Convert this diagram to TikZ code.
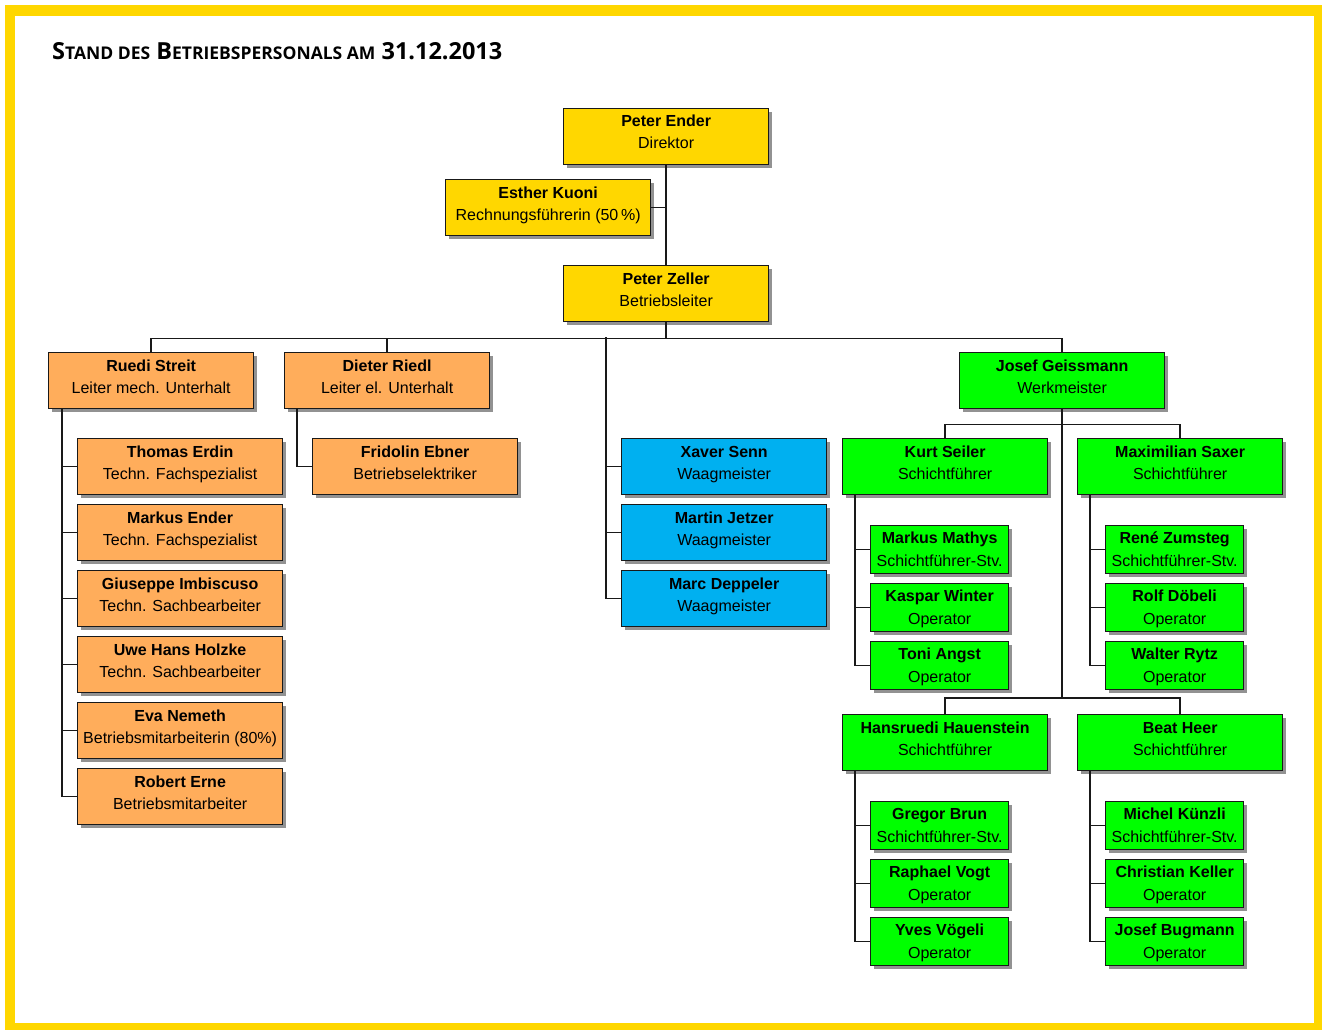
\documentclass[tikz,border=0pt]{standalone}
\usepackage{fontspec}
\setmainfont{Liberation Sans}
\newfontfamily\titlefont{Open Sans}
\usetikzlibrary{shadows}
\definecolor{frameY}{RGB}{255,215,0}
\definecolor{boxY}{RGB}{255,215,0}
\definecolor{boxO}{RGB}{255,173,91}
\definecolor{boxB}{RGB}{0,176,240}
\definecolor{boxG}{RGB}{0,255,0}
\tikzset{
 pbox/.style={draw=black!90, line width=1.3pt, inner sep=0pt,
   drop shadow={shadow xshift=3pt, shadow yshift=-3pt, fill=black!50, opacity=0.85}},
 big/.style={pbox, minimum width=205pt, minimum height=56pt},
 small/.style={pbox, minimum width=138pt, minimum height=48pt},
 yel/.style={big, fill=boxY},
 ora/.style={big, fill=boxO},
 blu/.style={big, fill=boxB},
 grn/.style={big, fill=boxG},
 sgrn/.style={small, fill=boxG},
 nm/.style={font=\fontsize{16}{16}\selectfont\bfseries, inner sep=0pt},
 rl/.style={font=\fontsize{16}{16}\selectfont, inner sep=0pt},
 conn/.style={line width=1.4pt, black!90},
}
\newcommand\pers[6]{%
 \node[#2, anchor=north west] (#1) at (#3) {};
 \node[nm, anchor=base] (#1n) at ([yshift=-#6pt]#1.north) {#4};
 \node[rl, anchor=base] (#1r) at ([yshift=-41pt]#1.north) {#5};}
\newcommand\scap[1]{{\fontsize{17.5}{17.5}\selectfont #1}}
\begin{document}
\begin{tikzpicture}[x=1pt,y=-1pt]
\useasboundingbox (0,0) rectangle (1322,1030);
\fill[frameY] (5,5) rectangle (1322,1030);
\fill[white] (15,16) rectangle (1314,1023);
\node[anchor=base west, inner sep=0pt, font=\titlefont\bfseries\fontsize{23.5}{23.5}\selectfont] (title) at (52,60)
 {S\scap{TAND DES} B\scap{ETRIEBSPERSONALS AM} 31.12.2013};

% yellow
\pers{pe}{yel}{563,108}{Peter Ender}{Direktor}{19}
\pers{ek}{yel}{445,179}{Esther Kuoni}{Rechnungsführerin (50\,\%)}{19}
\pers{pz}{yel}{563,265}{Peter Zeller}{Betriebsleiter}{19}
% orange
\pers{rs}{ora}{48,352}{Ruedi Streit}{Leiter mech. Unterhalt}{19}
\pers{dr}{ora}{284,352}{Dieter Riedl}{Leiter el. Unterhalt}{19}
\pers{te}{ora}{77,438}{Thomas Erdin}{Techn. Fachspezialist}{19}
\pers{me}{ora}{77,504}{Markus Ender}{Techn. Fachspezialist}{19}
\pers{gi}{ora}{77,570}{Giuseppe Imbiscuso}{Techn. Sachbearbeiter}{19}
\pers{uh}{ora}{77,636}{Uwe Hans Holzke}{Techn. Sachbearbeiter}{19}
\pers{en}{ora}{77,702}{Eva Nemeth}{Betriebsmitarbeiterin (80\%)}{19}
\pers{er}{ora}{77,768}{Robert Erne}{Betriebsmitarbeiter}{19}
\pers{fe}{ora}{312,438}{Fridolin Ebner}{Betriebselektriker}{19}
% blue
\pers{xs}{blu}{621,438}{Xaver Senn}{Waagmeister}{19}
\pers{mj}{blu}{621,504}{Martin Jetzer}{Waagmeister}{19}
\pers{md}{blu}{621,570}{Marc Deppeler}{Waagmeister}{19}
% green
\pers{jg}{grn}{959,352}{Josef Geissmann}{Werkmeister}{19}
\pers{ks}{grn}{842,438}{Kurt Seiler}{Schichtführer}{19}
\pers{mx}{grn}{1077,438}{Maximilian Saxer}{Schichtführer}{19}
\pers{hh}{grn}{842,714}{Hansruedi Hauenstein}{Schichtführer}{19}
\pers{bh}{grn}{1077,714}{Beat Heer}{Schichtführer}{19}
\pers{mm}{sgrn}{870,525}{Markus Mathys}{Schichtführer-Stv.}{18}
\pers{kw}{sgrn}{870,583}{Kaspar Winter}{Operator}{18}
\pers{ta}{sgrn}{870,641}{Toni Angst}{Operator}{18}
\pers{rz}{sgrn}{1105,525}{René Zumsteg}{Schichtführer-Stv.}{18}
\pers{rd}{sgrn}{1105,583}{Rolf Döbeli}{Operator}{18}
\pers{wr}{sgrn}{1105,641}{Walter Rytz}{Operator}{18}
\pers{gb}{sgrn}{870,801}{Gregor Brun}{Schichtführer-Stv.}{18}
\pers{rv}{sgrn}{870,859}{Raphael Vogt}{Operator}{18}
\pers{yv}{sgrn}{870,917}{Yves Vögeli}{Operator}{18}
\pers{mk}{sgrn}{1105,801}{Michel Künzli}{Schichtführer-Stv.}{18}
\pers{ck}{sgrn}{1105,859}{Christian Keller}{Operator}{18}
\pers{jb}{sgrn}{1105,917}{Josef Bugmann}{Operator}{18}

% connectors
\draw[conn] (pe.south) -- (pz.north);
\draw[conn] (ek.east) -- (ek.east -| pe.south);
\coordinate (bus) at ([yshift=-16pt]pz.south);
\draw[conn] (pz.south) -- (bus);
\draw[conn] (rs.north) |- (bus) -| (jg.north);
\draw[conn] (dr.north) -- (dr.north |- bus);
\coordinate (bl) at (606,337);
\foreach \c in {xs,mj,md} \draw[conn] (bl) |- (\c.west);
\coordinate (rsv) at ([xshift=14pt]rs.south west);
\foreach \c in {te,me,gi,uh,en,er} \draw[conn] (rsv) |- (\c.west);
\coordinate (drv) at ([xshift=13pt]dr.south west);
\draw[conn] (drv) |- (fe.west);
\coordinate (gb1) at ([yshift=-15pt]jg.south);
\coordinate (gb2) at (jg.south |- hh.north);
\coordinate (gb2) at ([yshift=16pt]gb2);
\draw[conn] (jg.south) -- (gb2);
\draw[conn] (ks.north) |- (gb1) -| (mx.north);
\draw[conn] (hh.north) |- (gb2) -| (bh.north);
\coordinate (ksv) at ([xshift=13pt]ks.south west);
\foreach \c in {mm,kw,ta} \draw[conn] (ksv) |- (\c.west);
\coordinate (mxv) at ([xshift=13pt]mx.south west);
\foreach \c in {rz,rd,wr} \draw[conn] (mxv) |- (\c.west);
\coordinate (hhv) at ([xshift=13pt]hh.south west);
\foreach \c in {gb,rv,yv} \draw[conn] (hhv) |- (\c.west);
\coordinate (bhv) at ([xshift=13pt]bh.south west);
\foreach \c in {mk,ck,jb} \draw[conn] (bhv) |- (\c.west);
\end{tikzpicture}
\end{document}
